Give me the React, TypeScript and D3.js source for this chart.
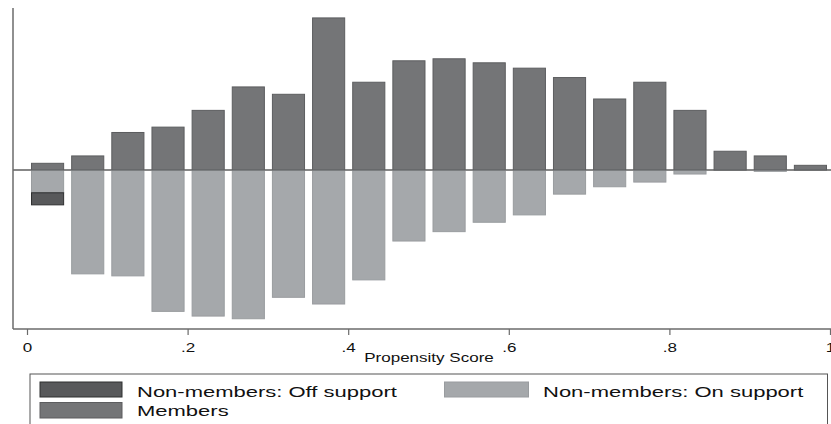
import React from "react";
import * as d3 from "d3";

// Propensity score histogram: members above the axis, non-members below.
const binStarts = d3.range(0, 1, 0.05).map((v) => +v.toFixed(2));
const members = [0.1, 0.21, 0.56, 0.64, 0.89, 1.24, 1.13, 2.27, 1.31, 1.63, 1.66, 1.6, 1.52, 1.38, 1.06, 1.31, 0.89, 0.28, 0.21, 0.07];
const onSupport = [0.34, 1.55, 1.58, 2.11, 2.18, 2.22, 1.9, 2.0, 1.64, 1.06, 0.92, 0.78, 0.67, 0.36, 0.25, 0.18, 0.06, 0, 0.02, 0];
const offSupport = [0.18, 0, 0, 0, 0, 0, 0, 0, 0, 0, 0, 0, 0, 0, 0, 0, 0, 0, 0, 0];
const xTicks = [0, 0.2, 0.4, 0.6, 0.8, 1];
const xTickLabels = ["0", ".2", ".4", ".6", ".8", "1"];
const legendItems = ["Non-members: Off support", "Non-members: On support", "Members"];

const W = 831;
const H = 424;
const BIN = 0.05;
const FONT = "'Liberation Sans', Arial, Helvetica, sans-serif";
const SX = 1.42; // horizontal text stretch

const C_MEM = "#747577";
const C_MEM_EDGE = "#5c5d5f";
const C_ON = "#a5a8ab";
const C_ON_EDGE = "#999c9f";
const C_OFF = "#58595b";
const C_OFF_EDGE = "#2f3031";
const C_AXIS = "#6b6b6b";

function SText({ x, y, size, anchor = "start", children }: any) {
  return (
    <text
      transform={`translate(${x},${y}) scale(${SX},1)`}
      fontSize={size}
      fontFamily={FONT}
      textAnchor={anchor}
      fill="#111"
    >
      {children}
    </text>
  );
}

export default function App() {
  const x = d3.scaleLinear().domain([0, 1]).range([27.5, 830.5]);
  const y = d3.scaleLinear().domain([-2.373, 2.418]).range([329, 8]);
  const axisLeft = 13;
  const bw = (x(BIN) - x(0)) * 0.8;
  const bx = (i: number) => x(binStarts[i] + BIN / 2) - bw / 2;

  return (
    <svg
      width={W}
      height={H}
      style={{ position: "absolute", left: 0, top: 0, background: "#fff" }}
    >
      <rect x={0} y={0} width={W} height={H} fill="#fff" />
      {/* zero line */}
      <line x1={axisLeft} x2={W} y1={y(0)} y2={y(0)} stroke="#111" strokeWidth={1.2} />

      {/* non-members on support (below) */}
      {onSupport.map((v, i) =>
        v > 0 ? (
          <rect
            key={`on${i}`}
            x={bx(i)}
            y={y(0)}
            width={bw}
            height={y(-v) - y(0)}
            fill={C_ON}
            stroke={C_ON_EDGE}
            strokeWidth={1}
          />
        ) : null
      )}
      {/* non-members off support, stacked beneath */}
      {offSupport.map((v, i) =>
        v > 0 ? (
          <rect
            key={`off${i}`}
            x={bx(i)}
            y={y(-onSupport[i])}
            width={bw}
            height={y(-onSupport[i] - v) - y(-onSupport[i])}
            fill={C_OFF}
            stroke={C_OFF_EDGE}
            strokeWidth={1}
          />
        ) : null
      )}
      {/* members (above) */}
      {members.map((v, i) => (
        <rect
          key={`m${i}`}
          x={bx(i)}
          y={y(v)}
          width={bw}
          height={y(0) - y(v)}
          fill={C_MEM}
          stroke={C_MEM_EDGE}
          strokeWidth={1}
        />
      ))}

      {/* axes */}
      <line x1={axisLeft} x2={axisLeft} y1={8} y2={y.range()[0]} stroke={C_AXIS} strokeWidth={1.5} />
      <line x1={axisLeft} x2={W} y1={329} y2={329} stroke={C_AXIS} strokeWidth={1.5} />
      {xTicks.map((t, i) => (
        <g key={`t${i}`}>
          <line x1={x(t)} x2={x(t)} y1={329} y2={335} stroke={C_AXIS} strokeWidth={1.2} />
          <SText x={x(t)} y={351.5} size={12} anchor="middle">
            {xTickLabels[i]}
          </SText>
        </g>
      ))}
      <SText x={(x(0) + x(1)) / 2} y={361.5} size={12} anchor="middle">
        Propensity Score
      </SText>

      {/* legend */}
      <rect x={30} y={374} width={797.5} height={60} fill="#fff" stroke="#555" strokeWidth={1} />
      <rect x={40} y={382} width={82} height={15} fill={C_OFF} stroke={C_OFF_EDGE} strokeWidth={1} />
      <SText x={137} y={397} size={15.5}>{legendItems[0]}</SText>
      <rect x={444.5} y={382} width={84} height={15} fill={C_ON} stroke={C_ON_EDGE} strokeWidth={1} />
      <SText x={543} y={397} size={15.5}>{legendItems[1]}</SText>
      <rect x={40} y={402.5} width={82} height={15.5} fill={C_MEM} stroke={C_MEM_EDGE} strokeWidth={1} />
      <SText x={137} y={415.5} size={15.5}>{legendItems[2]}</SText>
    </svg>
  );
}
